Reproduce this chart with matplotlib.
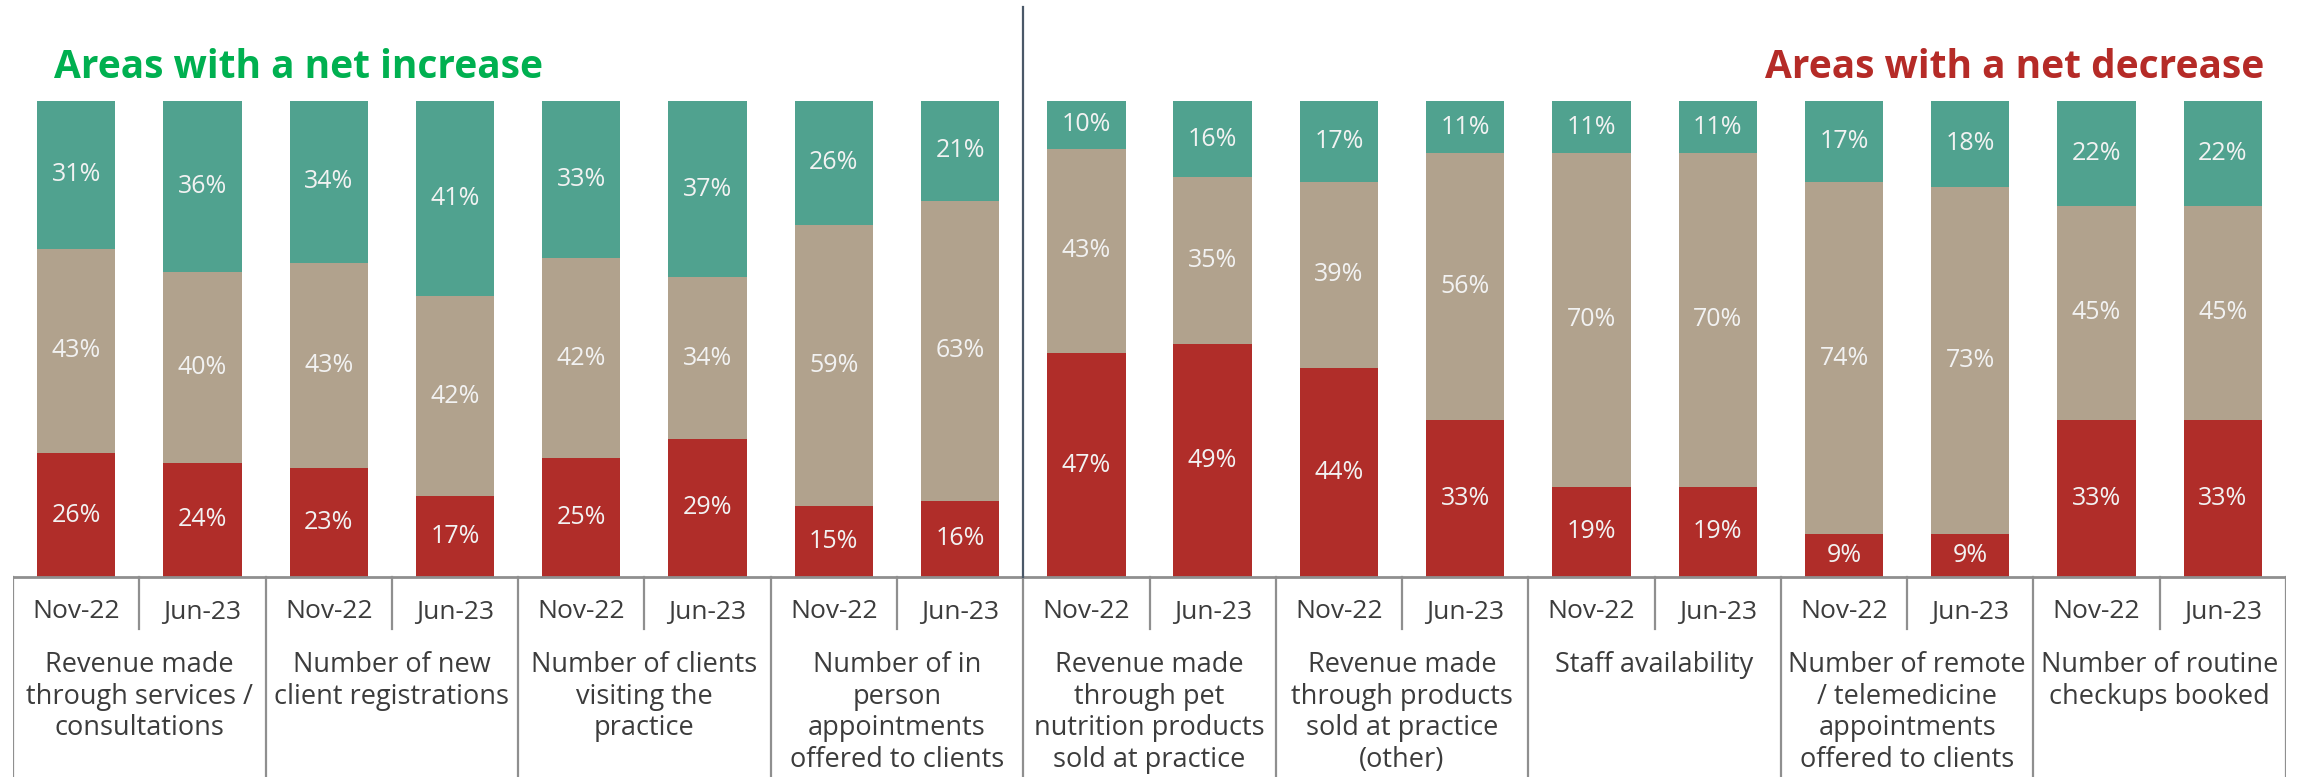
import matplotlib
matplotlib.use("Agg")
import matplotlib.pyplot as plt
import numpy as np

# Data
categories = [
    "Revenue made\nthrough services /\nconsultations",
    "Number of new\nclient registrations",
    "Number of clients\nvisiting the\npractice",
    "Number of in\nperson\nappointments\noffered to clients",
    "Revenue made\nthrough pet\nnutrition products\nsold at practice",
    "Revenue made\nthrough products\nsold at practice\n(other)",
    "Staff availability",
    "Number of remote\n/ telemedicine\nappointments\noffered to clients",
    "Number of routine\ncheckups booked",
]
periods = ["Nov-22", "Jun-23"]

# per bar: 9 categories x 2 periods
decrease = [26, 24, 23, 17, 25, 29, 15, 16, 47, 49, 44, 33, 19, 19, 9, 9, 33, 33]
no_change = [43, 40, 43, 42, 42, 34, 59, 63, 43, 35, 39, 56, 70, 70, 74, 73, 45, 45]
increase = [31, 36, 34, 41, 33, 37, 26, 21, 10, 16, 17, 11, 11, 11, 17, 18, 22, 22]

n_increase_groups = 4  # first four categories are net increase

RED = "#B02D29"
TAN = "#B1A28D"
TEAL = "#50A28F"
GRID = "#8F8F8F"
TXT = "#3C3C3C"

plt.rcParams['font.family'] = ['Open Sans', 'DejaVu Sans']

W, H = 2305, 777
fig = plt.figure(figsize=(W / 100, H / 100), dpi=100)

x_left, x_right = 13, 2286
ax = fig.add_axes([x_left / W, 0, (x_right - x_left) / W, 1])
px_per_unit = (577 - 101) / 100
ymin = -(H - 577) / px_per_unit
ymax = 100 + 101 / px_per_unit
nbars = len(decrease)
ax.set_xlim(-0.5, nbars - 0.5)
ax.set_ylim(ymin, ymax)
ax.axis("off")

x = np.arange(nbars)
dec = np.array(decrease)
nc = np.array(no_change)
inc = np.array(increase)
bw = 0.62
ax.bar(x, dec, bw, color=RED, edgecolor="none")
ax.bar(x, nc, bw, bottom=dec, color=TAN, edgecolor="none")
ax.bar(x, inc, bw, bottom=dec + nc, color=TEAL, edgecolor="none")

lab_kw = dict(ha="center", va="center", color="#F2F2F2", fontsize=18)
for i in range(nbars):
    ax.text(x[i], dec[i] / 2, f"{dec[i]}%", **lab_kw)
    ax.text(x[i], dec[i] + nc[i] / 2, f"{nc[i]}%", **lab_kw)
    ax.text(x[i], dec[i] + nc[i] + inc[i] / 2, f"{inc[i]}%", **lab_kw)

# table lines below bars
ax.plot([-0.5, nbars - 0.5], [0, 0], color=GRID, lw=2, solid_capstyle="butt")
date_bottom = -(629 - 577) / px_per_unit
for b in np.arange(-0.5, nbars, 2):
    ax.plot([b, b], [0, ymin], color=GRID, lw=1.6)
for b in np.arange(0.5, nbars, 2):
    ax.plot([b, b], [0, date_bottom], color=GRID, lw=1.6)

# divider between increase and decrease
div_x = n_increase_groups * 2 - 0.5
ax.plot([div_x, div_x], [0, 100 + (101 - 7) / px_per_unit], color="#4A5868", lw=1.6)

# date labels
date_y = -(612 - 577) / px_per_unit
for i in range(nbars):
    ax.text(x[i], date_y, periods[i % 2], ha="center", va="center",
            color=TXT, fontsize=19)

# category labels
cat_y = -(651 - 577) / px_per_unit
for g, name in enumerate(categories):
    ax.text(2 * g + 0.5, cat_y, name, ha="center", va="top", color=TXT,
            fontsize=19.5, linespacing=1.17)

# section titles
title_y = 100 + (101 - 68) / px_per_unit
ax.text(-0.175, title_y, "Areas with a net increase", ha="left", va="center",
        color="#00B050", fontsize=28, fontweight="bold")
ax.text(17.33, title_y, "Areas with a net decrease", ha="right", va="center",
        color="#B52B27", fontsize=28, fontweight="bold")

fig.savefig("out.png", dpi=100)
